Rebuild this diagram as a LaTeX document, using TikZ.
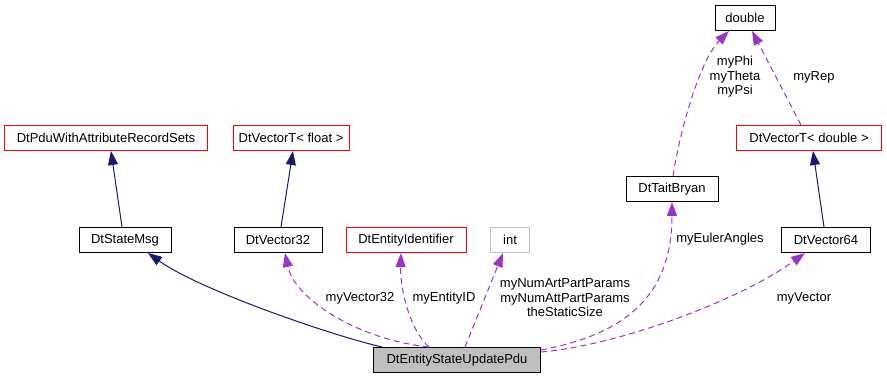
\documentclass[tikz,border=0pt]{standalone}
\usepackage{fontspec}
\setmainfont{Liberation Sans}
\usetikzlibrary{arrows.meta}
\definecolor{edgeblue}{HTML}{191970}
\definecolor{edgepurple}{HTML}{9A32CD}
\definecolor{builtingray}{HTML}{BFBFBF}
\begin{document}
\begin{tikzpicture}[
    x=1pt, y=-1pt,
    every node/.style={font=\fontsize{13}{14.5}\selectfont},
    cls/.style={draw, line width=1pt, minimum height=25pt, inner sep=0pt, fill=white},
    undoc/.style={cls, draw=red},
    builtin/.style={cls, draw=builtingray},
    focus/.style={cls, fill=builtingray},
    inherit/.style={-{Triangle[length=14pt, width=10pt]}, edgeblue, line width=1pt},
    usage/.style={-{Triangle[length=14pt, width=10pt]}, edgepurple, line width=1pt, dash pattern=on 6pt off 4pt},
    lbl/.style={align=center, inner sep=0pt},
]
\useasboundingbox (0,0) rectangle (887,379);
% class boxes
\node[undoc, minimum width=203pt] (records) at (106,138) {DtPduWithAttributeRecordSets};
\node[cls, minimum width=92pt] (statemsg) at (125,240) {DtStateMsg};
\node[undoc, minimum width=116pt] (vecfloat) at (291,138) {DtVectorT< float >};
\node[cls, minimum width=88pt] (vec32) at (278,240) {DtVector32};
\node[undoc, minimum width=120pt] (entityid) at (406,240) {DtEntityIdentifier};
\node[builtin, minimum width=39pt] (int) at (510,240) {int};
\node[focus, minimum width=167pt] (pdu) at (457,360) {DtEntityStateUpdatePdu};
\node[cls, minimum width=60pt] (double) at (745,18) {double};
\node[cls, minimum width=92pt] (tait) at (672,189) {DtTaitBryan};
\node[undoc, minimum width=145pt] (vecdouble) at (809,138) {DtVectorT< double >};
\node[cls, minimum width=89pt] (vec64) at (826,240) {DtVector64};
% inheritance
\draw[inherit] (statemsg.north -| 122,0) -- (records.south -| 111,0);
\draw[inherit] (vec32.north -| 281,0) -- (vecfloat.south -| 293,0);
\draw[inherit] (vec64.north -| 824,0) -- (vecdouble.south -| 813,0);
\draw[inherit] (pdu.north -| 382,0) .. controls (330,335) and (200,290) .. (statemsg.south -| 148,0);
% usage
\draw[usage] (pdu.north -| 429,0) .. controls (360,340) and (295,300) .. (vec32.south -| 285,0);
\draw[usage] (pdu.north -| 429,0) .. controls (410,330) and (400,290) .. (entityid.south -| 401,0);
\draw[usage] (pdu.north -| 465,0) -- (int.south -| 503,0);
\draw[usage] (pdu.east |- 0,350) .. controls (620,335) and (672,300) .. (tait.south -| 672,0);
\draw[usage] (pdu.east |- 0,352) .. controls (620,345) and (740,300) .. (vec64.south -| 805,0);
\draw[usage] (tait.north -| 673,0) .. controls (680,130) and (700,60) .. (double.south -| 729,0);
\draw[usage] (vecdouble.north -| 801,0) -- (double.south -| 752,0);
% member labels
\node[lbl] (lvec32) at (360,298) {myVector32};
\node[lbl] (lentity) at (444,298) {myEntityID};
\node[lbl] (lint) at (565,298) {myNumArtPartParams\\myNumAttPartParams\\theStaticSize};
\node[lbl] (leuler) at (720,239) {myEulerAngles};
\node[lbl] (lvector) at (804,298) {myVector};
\node[lbl] (langles) at (735,77) {myPhi\\myTheta\\myPsi};
\node[lbl] (lrep) at (814,77) {myRep};
\end{tikzpicture}
\end{document}
